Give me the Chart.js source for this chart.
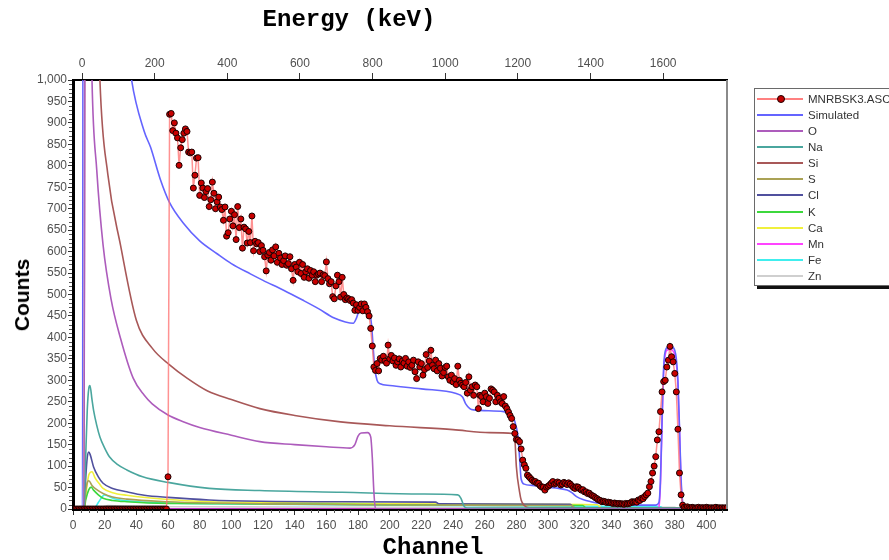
<!DOCTYPE html>
<html>
<head>
<meta charset="utf-8">
<script src="https://cdn.jsdelivr.net/npm/chart.js@4.4.1/dist/chart.umd.min.js"></script>
<style>
  html,body{margin:0;padding:0;background:#fff;overflow:hidden;}
  #wrap{position:relative;width:889px;height:560px;overflow:hidden;}
  #c{position:absolute;left:0;top:0;}
  .ttl{position:absolute;font-family:"Liberation Mono","DejaVu Sans Mono",monospace;font-weight:bold;font-size:24px;line-height:24px;color:#000;text-align:center;white-space:nowrap;}
  #ylab{position:absolute;left:22px;top:295px;transform:translate(-50%,-50%) rotate(-90deg);font-family:"Liberation Sans",Arial,sans-serif;font-weight:bold;font-size:21px;color:#000;white-space:nowrap;}
  #legend{position:absolute;left:754px;top:88px;width:150px;height:196px;border:1px solid #6a6a6a;background:#fff;box-shadow:3px 3px 0 #111;}
  .row{position:absolute;left:0;height:16px;width:150px;}
  .sw{position:absolute;left:2px;top:7px;width:46px;height:2px;}
  .dot{position:absolute;left:22px;top:4px;width:6px;height:6px;border-radius:50%;background:#c00000;border:1px solid #200000;}
  .lt{position:absolute;left:53px;top:0;line-height:16px;font-family:"Liberation Sans",Arial,sans-serif;font-size:11.5px;color:#333;white-space:nowrap;}
</style>
</head>
<body>
<div id="wrap">
  <canvas id="c" width="889" height="560"></canvas>
  <div class="ttl" style="left:0;width:698px;top:8px;">Energy (keV)</div>
  <div class="ttl" style="left:0;width:866px;top:536px;">Channel</div>
  <div id="ylab">Counts</div>
  <div id="legend"></div>
</div>
<script>
// ---------- tick labels ----------
const CHANNEL_TICKS = [0,20,40,60,80,100,120,140,160,180,200,220,240,260,280,300,320,340,360,380,400];
const ENERGY_TICKS = [0,200,400,600,800,1000,1200,1400,1600];
const COUNT_TICKS = [0,50,100,150,200,250,300,350,400,450,500,550,600,650,700,750,800,850,900,950,1000];
const CHANNEL_MAX = 413;
const COUNT_MAX = 1000;
// energy calibration: keV = GAIN * (channel - OFFSET)
const ENERGY_GAIN = 4.36;
const ENERGY_OFFSET = 5.7;

// ---------- series names ----------
const SERIES = ["MNRBSK3.ASC","Simulated","O","Na","Si","S","Cl","K","Ca","Mn","Fe","Zn"];

// ---------- measured spectrum, one value per channel 0..413 ----------
const COUNTS = [
  0,0,0,0,0,0,0,0,0,0,
  0,0,0,0,0,0,0,0,0,0,
  0,0,0,0,0,0,0,0,0,0,
  0,0,0,0,0,0,0,0,0,0,
  0,0,0,0,0,0,0,0,0,0,
  0,0,0,0,0,0,0,0,0,0,
  75,920,922,882,900,876,865,801,842,861,
  876,886,880,832,830,832,748,778,818,819,
  731,760,748,726,740,747,705,721,762,736,
  700,716,727,704,698,673,704,636,644,676,
  694,660,686,628,705,656,676,608,657,653,
  620,647,621,683,602,624,618,621,600,614,
  603,588,555,592,598,580,604,590,611,575,
  596,585,570,579,590,568,572,588,560,533,
  570,564,553,575,549,570,540,553,560,538,
  556,545,553,530,545,548,550,530,546,544,
  576,537,525,530,495,490,520,545,530,494,
  540,500,488,492,490,486,488,480,463,476,
  463,470,478,462,478,470,460,450,421,380,
  331,323,339,322,351,347,356,345,340,382,
  350,358,345,352,335,343,350,331,345,340,
  351,333,343,330,335,347,320,304,343,331,
  339,312,325,360,330,345,370,335,327,347,
  322,339,328,310,318,330,333,308,300,312,
  296,304,290,333,300,293,289,285,295,270,
  308,277,285,265,289,285,234,265,262,250,
  270,262,246,258,280,277,273,250,265,258,
  250,246,262,240,234,226,218,211,192,176,
  162,161,157,140,114,103,95,79,75,71,
  67,64,64,60,60,54,51,51,44,51,
  53,56,60,64,58,60,63,61,56,58,
  62,60,57,61,58,54,50,48,52,51,
  47,44,45,40,40,36,37,33,31,29,
  26,24,21,20,17,18,17,15,16,15,
  14,13,14,13,12,13,12,12,11,13,
  12,13,14,17,16,17,16,21,20,25,
  24,29,33,37,52,64,84,100,122,161,
  180,227,273,297,300,331,347,379,355,343,
  316,273,186,84,33,9,4,3,5,3,
  2,4,3,2,3,4,2,3,3,2,
  4,3,2,3,2,3,4,2,3,2,
  3,2,3,2
];

// ---------- fitted curves: key points (channel, counts) ----------
const SIM_X = [0,6,7,10,15,20,25,30,37,45,49,55,61,70,80,91,100,112,120,133,145,155,165,172,177,179,181,184,187,188.5,189.5,190.5,192,194,200,220,242,246,248,250.6,253,272,276,278,280,281,282,283,285,290,300,305,312,315,318,322,327,333,340,360,368,370,371,372,373,374,376,378,380,381,382,383,384,385,386,413];
const SIM_Y = [0,0,6000,4300,2800,1950,1500,1230,1000,880,843,770,714,665,625,595,572,548,533,510,487,467,445,436,433,445,465,468,460,430,380,330,300,292,288,280,269,261,245,234,231,227,222,214,190,170,120,70,58,55,50,49,44,38,29,22,17,13,10,9,9,15,70,210,330,368,378,378,370,350,300,190,70,15,3,2];

const O_X = [0,7,8,9,10,12,15,19,24,30,38,45,50,60,70,80,100,118,140,160,175,178,180,182,186,188,189,190,191,413];
const O_Y = [0,0,2600,2000,1500,1000,790,615,490,398,305,265,245,219,203,190,172,157,150,145,142,150,170,177,178,168,120,40,0,0];

const NA_X = [0,7,8,9,10,10.7,12,13,15,17,20,23,28,34,44,60,86,118,170,220,243,245,247,249,413];
const NA_Y = [0,0,120,230,282,288,255,230,195,168,142,122,104,91,75,62,48,43,39,35,33,25,6,2,2];

const SI_X = [0,7,8,10,13,17,22,30,40,50,61,72,85,100,118,140,169,200,240,263,278,279,280,282,283,285,288,413];
const SI_Y = [0,0,3500,2500,1600,1000,780,615,440,375,336,305,275,255,234,218,203,194,185,178,176,165,98,40,21,8,3,2];

const S_X = [0,7,8,9,10,12,15,19,25,34,60,86,120,180,250,300,315,317,413];
const S_Y = [0,0,40,62,66,55,45,36,28,23,17,14,12,10,9,8,8,2,1];

const CL_X = [0,7,8,9,10,11,13,16,19,25,34,45,60,86,118,170,229,231,314,316,318,413];
const CL_Y = [0,0,70,120,133,125,98,75,60,48,40,32,27,21,18,17,16,12,11,4,1,1];

const K_X = [0,7,8,10,11.5,13,16,19,25,34,60,118,200,280,322,324,413];
const K_Y = [0,0,20,45,51,44,33,25,20,17,13,12,10,9,8,2,1];

const CA_X = [0,7,8,10,12,14,17,19,25,34,60,86,118,200,300,331,334,413];
const CA_Y = [0,0,30,80,87,72,57,48,38,32,22,17,15,12,11,10,2,1];

const MN_X = [0,369,370,371,372,373,374,375,377,379,380,381,382,383,384,385,386,413];
const MN_Y = [0,0,5,60,200,320,360,370,372,368,360,340,290,180,60,10,0,0];

const FE_X = [0,13,16,19,20,22,26,34,45,60,100,200,300,365,371,373,413];
const FE_Y = [0,0,15,31,33,30,24,19,16,14,12,9,7,6,5,1,0];

const ZN_X = [0,15,22,30,100,200,380,382,413];
const ZN_Y = [0,0,8,7,5,4,4,0,0];

// ---------- styling ----------
const COLORS = ["rgba(255,110,110,0.75)","#6464ff","#ad5cbc","#4aa69e","#a85858","#aaa255","#50509e","#3cd83c","#f0f03c","#ff44ff","#40eeee","#cfcfcf"];
const FONT = "'Liberation Sans', Arial, sans-serif";

function pts(xs, ys){ return xs.map((x,i)=>({x:x, y:ys[i]})); }

const curveSets = [
  [SIM_X,SIM_Y],[O_X,O_Y],[NA_X,NA_Y],[SI_X,SI_Y],[S_X,S_Y],[CL_X,CL_Y],
  [K_X,K_Y],[CA_X,CA_Y],[MN_X,MN_Y],[FE_X,FE_Y],[ZN_X,ZN_Y]
];

const datasets = [{
  label: SERIES[0],
  data: COUNTS.map((v,ch)=>({x:ch, y:v})),
  borderColor: COLORS[0],
  borderWidth: 1.5,
  pointRadius: 3,
  pointBackgroundColor: '#c80000',
  pointBorderColor: '#1a0000',
  pointBorderWidth: 1,
  tension: 0
}];
curveSets.forEach((c,i)=>{
  datasets.push({
    label: SERIES[i+1],
    data: pts(c[0], c[1]),
    borderColor: COLORS[i+1],
    borderWidth: 1.6,
    pointRadius: 0,
    cubicInterpolationMode: 'monotone'
  });
});

const axisExtras = {
  id: 'axisExtras',
  afterDraw(chart){
    const ctx = chart.ctx, a = chart.chartArea, xs = chart.scales.x, ys = chart.scales.y;
    ctx.save();
    ctx.strokeStyle = '#555';
    ctx.lineWidth = 1;
    ctx.beginPath();
    for (let v = 0; v <= COUNT_MAX; v += 10) {
      if (v % 50 === 0) continue;
      const py = Math.round(ys.getPixelForValue(v)) + 0.5;
      ctx.moveTo(a.left - 4, py); ctx.lineTo(a.left - 1, py);
    }
    for (let c = 0; c <= CHANNEL_MAX; c += 5) {
      if (c % 20 === 0) continue;
      const px = Math.round(xs.getPixelForValue(c)) + 0.5;
      ctx.moveTo(px, a.bottom + 1); ctx.lineTo(px, a.bottom + 4);
    }
    ctx.stroke();
    ctx.strokeStyle = '#8a8a8a';
    ctx.lineWidth = 2;
    ctx.beginPath();
    ctx.moveTo(a.right, a.top); ctx.lineTo(a.right, a.bottom);
    ctx.stroke();
    ctx.restore();
  }
};

const tickFont = {family: FONT, size: 12};

new Chart(document.getElementById('c'), {
  type: 'line',
  data: {datasets: datasets},
  plugins: [axisExtras],
  options: {
    responsive: false,
    devicePixelRatio: 1,
    animation: false,
    layout: {padding: {left: 0, right: 162, top: 0, bottom: 0}},
    plugins: {legend: {display: false}, tooltip: {enabled: false}},
    scales: {
      x: {
        type: 'linear', position: 'bottom', min: 0, max: CHANNEL_MAX,
        afterBuildTicks(s){ s.ticks = CHANNEL_TICKS.map(v=>({value:v})); },
        ticks: {autoSkip: false, maxRotation: 0, color: '#505050', font: tickFont, padding: 3,
          callback: v => String(v)},
        grid: {drawOnChartArea: false, drawTicks: true, tickLength: 6, tickColor: '#333'},
        border: {color: '#000', width: 3},
        afterFit(s){ s.height = 51; }
      },
      x2: {
        type: 'linear', position: 'top',
        min: ENERGY_GAIN * (0 - ENERGY_OFFSET),
        max: ENERGY_GAIN * (CHANNEL_MAX - ENERGY_OFFSET),
        afterBuildTicks(s){ s.ticks = ENERGY_TICKS.map(v=>({value:v})); },
        ticks: {autoSkip: false, maxRotation: 0, color: '#505050', font: tickFont, padding: 2,
          callback: v => String(v)},
        grid: {drawOnChartArea: false, drawTicks: true, tickLength: 7, tickColor: '#333'},
        border: {color: '#000', width: 2},
        afterFit(s){ s.height = 80; }
      },
      y: {
        type: 'linear', position: 'left', min: 0, max: COUNT_MAX,
        afterBuildTicks(s){ s.ticks = COUNT_TICKS.map(v=>({value:v})); },
        ticks: {autoSkip: false, color: '#505050', font: tickFont, padding: 1,
          callback: v => Number(v).toLocaleString('en-US')},
        grid: {drawOnChartArea: false, drawTicks: true, tickLength: 5, tickColor: '#333'},
        border: {color: '#000', width: 3},
        afterFit(s){ s.width = 73; }
      }
    }
  }
});

// ---------- legend (HTML text) ----------
const lg = document.getElementById('legend');
SERIES.forEach((name, i) => {
  const row = document.createElement('div');
  row.className = 'row';
  row.style.top = (2.3 + 16.03 * i) + 'px';
  const sw = document.createElement('div');
  sw.className = 'sw';
  sw.style.background = i === 0 ? '#ff8080' : COLORS[i];
  row.appendChild(sw);
  if (i === 0) { const d = document.createElement('div'); d.className = 'dot'; row.appendChild(d); }
  const t = document.createElement('div');
  t.className = 'lt';
  t.textContent = name;
  row.appendChild(t);
  lg.appendChild(row);
});
</script>
</body>
</html>
